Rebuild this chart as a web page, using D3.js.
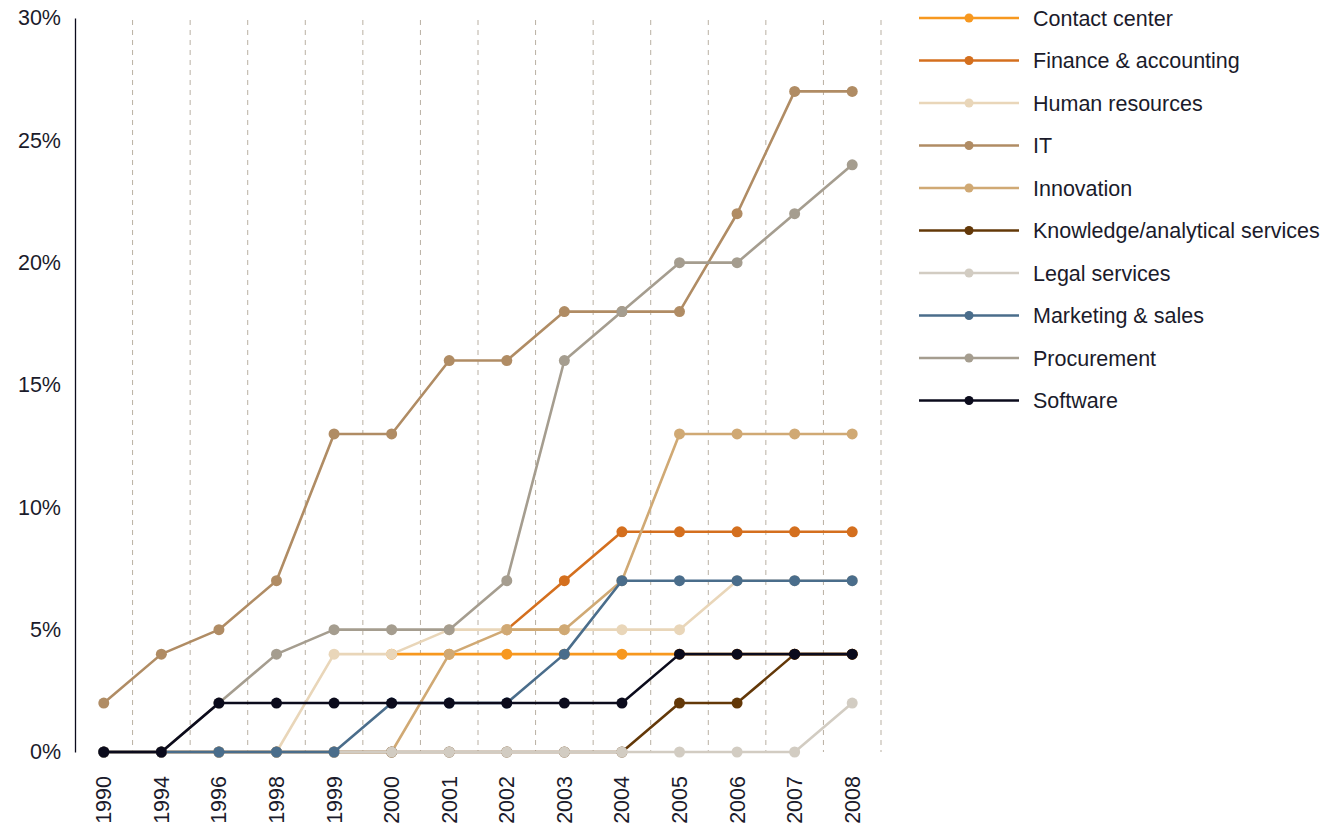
<!DOCTYPE html>
<html>
<head>
<meta charset="utf-8">
<script src="https://cdn.jsdelivr.net/npm/d3@7"></script>
<style>
  html, body { margin: 0; padding: 0; background: #ffffff; }
  svg { display: block; font-family: "Liberation Sans", Arial, Helvetica, sans-serif; }
</style>
</head>
<body>
<svg id="chart" width="1331" height="824"></svg>
<script>
// Years on the horizontal axis
const years = ["1990", "1994", "1996", "1998", "1999", "2000", "2001", "2002", "2003", "2004", "2005", "2006", "2007", "2008"];

// Share of companies (%) per function; null = no data yet
const contactCenter = [null, null, null, null, null, 4, 4, 4, 4, 4, 4, 4, 4, 4];
const financeAccounting = [null, null, null, null, null, null, null, 5, 7, 9, 9, 9, 9, 9];
const humanResources = [0, 0, 0, 0, 4, 4, 5, 5, 5, 5, 5, 7, 7, 7];
const it = [2, 4, 5, 7, 13, 13, 16, 16, 18, 18, 18, 22, 27, 27];
const innovation = [0, 0, 0, 0, 0, 0, 4, 5, 5, 7, 13, 13, 13, 13];
const knowledgeAnalytical = [0, 0, 0, 0, 0, 0, 0, 0, 0, 0, 2, 2, 4, 4];
const legalServices = [0, 0, 0, 0, 0, 0, 0, 0, 0, 0, 0, 0, 0, 2];
const marketingSales = [0, 0, 0, 0, 0, 2, 2, 2, 4, 7, 7, 7, 7, 7];
const procurement = [0, 0, 2, 4, 5, 5, 5, 7, 16, 18, 20, 20, 22, 24];
const software = [0, 0, 2, 2, 2, 2, 2, 2, 2, 2, 4, 4, 4, 4];

const seriesNames = ["Contact center", "Finance & accounting", "Human resources", "IT", "Innovation",
  "Knowledge/analytical services", "Legal services", "Marketing & sales", "Procurement", "Software"];
const seriesValues = [contactCenter, financeAccounting, humanResources, it, innovation,
  knowledgeAnalytical, legalServices, marketingSales, procurement, software];
const seriesColors = ["#f7981f", "#d46f1e", "#e9d6b9", "#b08c64", "#d0a974",
  "#633808", "#d2ccc2", "#4a6d8b", "#a59d8f", "#0b0b1c"];

const yTicks = [0, 5, 10, 15, 20, 25, 30];

const series = seriesNames.map((name, i) => ({
  name, color: seriesColors[i],
  points: years.map((y, j) => ({ year: y, value: seriesValues[i][j] }))
}));

const svg = d3.select("#chart");
const plotLeft = 75, plotRight = 881, plotTop = 18, plotBottom = 752;
const fontSize = 21.5;
const textColor = "#1b1b2b";

const x = d3.scaleBand().domain(years).range([plotLeft, plotRight]).paddingInner(0).paddingOuter(0);
const y = d3.scaleLinear().domain([0, 30]).range([plotBottom, plotTop]);

// Dashed vertical separators at the right edge of each year band
svg.append("g")
  .selectAll("line")
  .data(years)
  .join("line")
  .attr("x1", d => x(d) + x.bandwidth())
  .attr("x2", d => x(d) + x.bandwidth())
  .attr("y1", plotTop + 2)
  .attr("y2", plotBottom)
  .attr("stroke", "#b9b0a3")
  .attr("stroke-width", 1)
  .attr("stroke-dasharray", "5,5");

// Y axis
const yAxis = d3.axisLeft(y).tickValues(yTicks).tickFormat(d => d + "%").tickSize(0).tickPadding(14);
const gy = svg.append("g").attr("transform", `translate(${plotLeft},0)`).call(yAxis);
gy.select(".domain").attr("stroke", "#0b0b1c").attr("stroke-width", 1.3);
gy.selectAll("text").attr("font-size", fontSize).attr("fill", textColor)
  .attr("font-family", "'Liberation Sans', Arial, sans-serif");

// X axis labels (rotated)
const xAxis = d3.axisBottom(x).tickSize(0).tickPadding(0);
const gx = svg.append("g").attr("transform", `translate(0,${plotBottom})`).call(xAxis);
gx.select(".domain").remove();
gx.selectAll("text")
  .attr("font-size", fontSize).attr("fill", textColor)
  .attr("font-family", "'Liberation Sans', Arial, sans-serif")
  .attr("text-anchor", "end")
  .attr("dy", "0.35em")
  .attr("transform", "translate(0,24) rotate(-90)")
  .attr("x", 0).attr("y", 0);

// Lines and markers
const line = d3.line()
  .defined(d => d.value !== null)
  .x(d => x(d.year) + x.bandwidth() / 2)
  .y(d => y(d.value));

const gs = svg.append("g").selectAll("g").data(series).join("g");
gs.append("path")
  .attr("d", d => line(d.points))
  .attr("fill", "none")
  .attr("stroke", d => d.color)
  .attr("stroke-width", 2.6)
  .attr("stroke-linejoin", "round");
gs.selectAll("circle")
  .data(d => d.points.filter(p => p.value !== null).map(p => ({ ...p, color: d.color })))
  .join("circle")
  .attr("cx", d => x(d.year) + x.bandwidth() / 2)
  .attr("cy", d => y(d.value))
  .attr("r", 5.5)
  .attr("fill", d => d.color);

// Legend
const legend = svg.append("g").attr("transform", "translate(919,18)");
const li = legend.selectAll("g").data(series).join("g")
  .attr("transform", (d, i) => `translate(0,${i * 42.5})`);
li.append("line").attr("x1", 0).attr("x2", 100).attr("y1", 0).attr("y2", 0)
  .attr("stroke", d => d.color).attr("stroke-width", 2.6);
li.append("circle").attr("cx", 50).attr("cy", 0).attr("r", 4.5).attr("fill", d => d.color);
li.append("text").attr("x", 114).attr("y", 0).attr("dy", "0.35em")
  .attr("font-size", fontSize).attr("fill", textColor)
  .text(d => d.name);
</script>
</body>
</html>
